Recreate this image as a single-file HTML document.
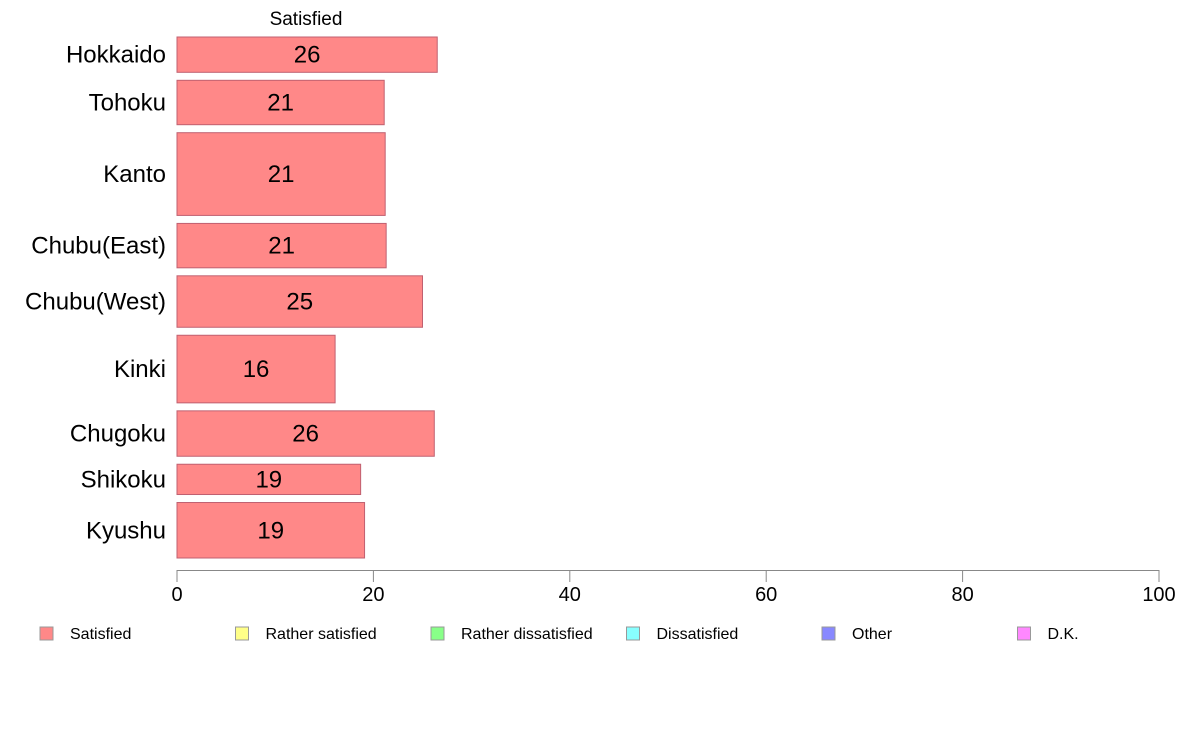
<!DOCTYPE html>
<html><head><meta charset="utf-8"><style>
body{margin:0;background:#fff;}
svg text{font-family:"Liberation Sans",Arial,sans-serif;}
</style></head><body>
<svg id="chart" width="1188" height="736" xmlns="http://www.w3.org/2000/svg">
<text x="306" y="25" font-size="19" text-anchor="middle">Satisfied</text>
<g id="bars"></g>
<g id="axis"></g>
<g id="legend"></g>
</svg>
<script>
const regions=["Hokkaido","Tohoku","Kanto","Chubu(East)","Chubu(West)","Kinki","Chugoku","Shikoku","Kyushu"];
const satisfied=[26.5,21.1,21.2,21.3,25.0,16.1,26.2,18.7,19.1];
const labels=["26","21","21","21","25","16","26","19","19"];
const weights=[35,44,82,44,51,67,45,30,55];
const ticks=[0,20,40,60,80,100];
const legendItems=["Satisfied","Rather satisfied","Rather dissatisfied","Dissatisfied","Other","D.K."];
const legendColors=["#ff8888","#ffff88","#88ff88","#88ffff","#8888ff","#ff88ff"];
const NS="http://www.w3.org/2000/svg";
const x0=177,x1=1159,yTop=37,yBot=558,gap=8;
const xs=v=>x0+(x1-x0)*v/100;
const totalW=weights.reduce((a,b)=>a+b,0);
const unit=(yBot-yTop-gap*(weights.length-1))/totalW;
function mk(tag,attrs,parent){const e=document.createElementNS(NS,tag);for(const k in attrs)e.setAttribute(k,attrs[k]);parent.appendChild(e);return e;}
const bars=document.getElementById('bars');
let y=yTop;
regions.forEach((r,i)=>{
  const h=weights[i]*unit;
  const rect=mk('rect',{x:x0,y:y,width:xs(satisfied[i])-x0,height:h,fill:'#ff8888',stroke:'#c06070','stroke-width':1},bars);
  
  
  const t=mk('text',{x:(x0+xs(satisfied[i]))/2,y:y+h/2+8,'font-size':24,'text-anchor':'middle'},bars);
  t.textContent=labels[i];
  
  
  const c=mk('text',{x:166,y:y+h/2+8,'font-size':24,'text-anchor':'end'},bars);
  c.textContent=r;
  
  
  y+=h+gap;
});
const axis=document.getElementById('axis');
const al=mk('line',{x1:x0,x2:x1,y1:570.5,y2:570.5,stroke:'#888','stroke-width':1},axis);


ticks.forEach(v=>{
  const tl=mk('line',{x1:xs(v),x2:xs(v),y1:570,y2:582,stroke:'#888','stroke-width':1},axis);
  
  
  const tt=mk('text',{x:xs(v),y:601,'font-size':20,'text-anchor':'middle'},axis);
  tt.textContent=v;
  
  
});
const lg=document.getElementById('legend');
legendItems.forEach((n,i)=>{
  const lx=40+i*195.5;
  const sw=mk('rect',{x:lx,y:627,width:13,height:13,fill:legendColors[i],stroke:'#999','stroke-width':1},lg);
  
  
  const lt=mk('text',{x:lx+30,y:639,'font-size':16},lg);
  lt.textContent=n;
  
  
});
</script>
</body></html>
